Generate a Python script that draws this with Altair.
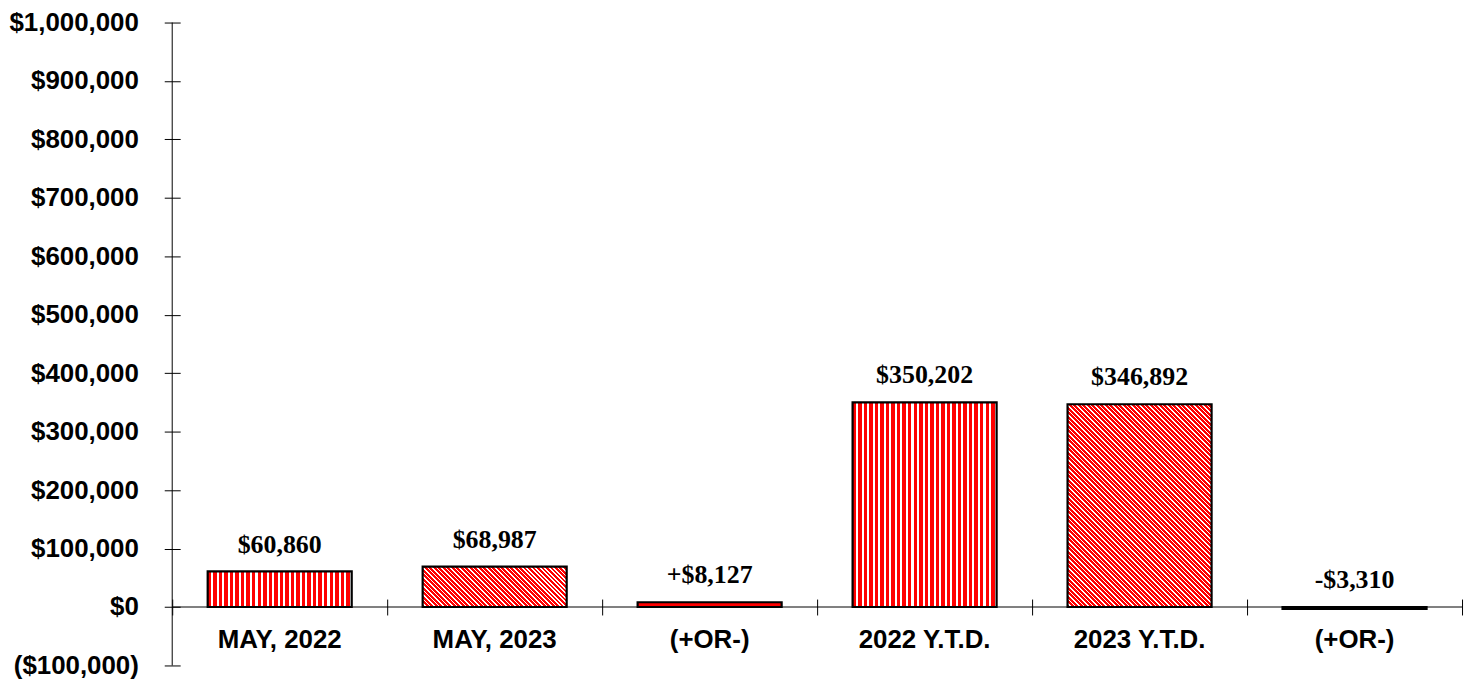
import json
import altair as alt
import pandas as pd

# ---- data ----
categories = ["MAY, 2022", "MAY, 2023", "(+OR-)", "2022 Y.T.D.", "2023 Y.T.D.", "(+OR-)"]
values = [60860, 68987, 8127, 350202, 346892, -3310]
value_labels = ["$60,860", "$68,987", "+$8,127", "$350,202", "$346,892", "-$3,310"]
y_ticks = [-100000, 0, 100000, 200000, 300000, 400000, 500000,
           600000, 700000, 800000, 900000, 1000000]
fill_styles = ["vertical", "diagonal", "solid", "vertical", "diagonal", "black"]

# ---- layout / style ----
W, H = 1296, 646
YMIN, YMAX = -100000, 1000000
BAND = 0.67
RED = "#FF0000"
WHITE = "#FFFFFF"
BAND_PX = W / len(categories)
BAR_W = BAND_PX * BAND


def stripe_stops(n, frac):
    stops = []
    for k in range(n):
        a, b, c = k / n, (k + frac) / n, (k + 1) / n
        stops += [(RED, a), (RED, b), (WHITE, b), (WHITE, c)]
    return [alt.GradientStop(color=col, offset=round(min(max(o, 0), 1), 6)) for col, o in stops]


def fill_for(style, v):
    if style == "vertical":
        n = 26
        return alt.LinearGradient(gradient="linear", stops=stripe_stops(n, 0.62),
                                  x1=0, x2=1, y1=0, y2=0)
    if style == "diagonal":
        w = BAR_W
        h = abs(v) / (YMAX - YMIN) * H
        c = (w + h) / (w * w + h * h)
        n = max(1, round((w + h) / 4.5))
        return alt.LinearGradient(gradient="linear", stops=stripe_stops(n, 0.66),
                                  x1=0, y1=1, x2=c * w, y2=1 - c * h)
    if style == "black":
        return "#000000"
    return RED


df = pd.DataFrame({"idx": list(range(len(categories))), "value": values,
                   "label": value_labels})
one = pd.DataFrame({"z": [0]})

label_expr = json.dumps(categories) + "[datum.value]"
zero_from_bottom = H * (0 - YMIN) / (YMAX - YMIN)

x_enc = alt.X(
    "idx:O",
    scale=alt.Scale(paddingInner=0, paddingOuter=0),
    axis=alt.Axis(
        orient="bottom", offset=-(zero_from_bottom + 8), domain=False,
        ticks=True, tickSize=16, tickColor="black", tickWidth=1,
        bandPosition=1, tickExtra=True,
        labelPadding=25, labelBaseline="middle", labelAngle=0,
        labelExpr=label_expr, labelFont="Liberation Sans", labelFontWeight="bold",
        labelFontSize=26, labelColor="black", labelOverlap=False, grid=False,
        title=None,
    ),
)
y_scale = alt.Scale(domain=[YMIN, YMAX], nice=False, zero=False)
y_axis = alt.Axis(
    values=y_ticks, offset=-8, domain=False, tickSize=16, tickColor="black",
    tickWidth=1, labelPadding=26, labelFont="Liberation Sans",
    labelFontWeight="bold", labelFontSize=26, labelColor="black", grid=False,
    title=None, labelOverlap=False,
    labelExpr="datum.value < 0 ? '(' + format(-datum.value, '$,') + ')' : format(datum.value, '$,')",
)

zero_rule = alt.Chart(one).mark_rule(color="black", strokeWidth=1).encode(
    y=alt.Y(datum=0, type="quantitative", scale=y_scale, axis=y_axis)
)

layers = [zero_rule]
for i, (style, v) in enumerate(zip(fill_styles, values)):
    bar = (
        alt.Chart(df)
        .transform_filter(alt.datum.idx == i)
        .mark_bar(fill=fill_for(style, v), stroke="black", strokeWidth=2.2,
                  width=alt.RelativeBandSize(BAND))
        .encode(x=x_enc, y=alt.Y("value:Q", scale=y_scale, axis=y_axis))
    )
    layers.append(bar)

domain_rule = alt.Chart(one).mark_rule(color="black", strokeWidth=1).encode(
    x=alt.value(0),
    y=alt.Y(datum=YMIN, type="quantitative", scale=y_scale, axis=y_axis),
    y2=alt.Y2(datum=YMAX),
)
layers.append(domain_rule)

labels = (
    alt.Chart(df)
    .transform_calculate(top="max(datum.value, 0)")
    .mark_text(font="Liberation Serif", fontWeight="bold", fontSize=26,
               baseline="middle", dy=-27, color="black")
    .encode(x=x_enc, y=alt.Y("top:Q", scale=y_scale, axis=y_axis), text="label:N")
)
layers.append(labels)

chart = (
    alt.layer(*layers)
    .properties(width=W, height=H, padding={"left": 0, "top": 0, "right": 5, "bottom": 0},
                background="white")
    .configure_view(stroke=None)
)

chart.save("out.html", embed_options={"renderer": "svg", "actions": False})
